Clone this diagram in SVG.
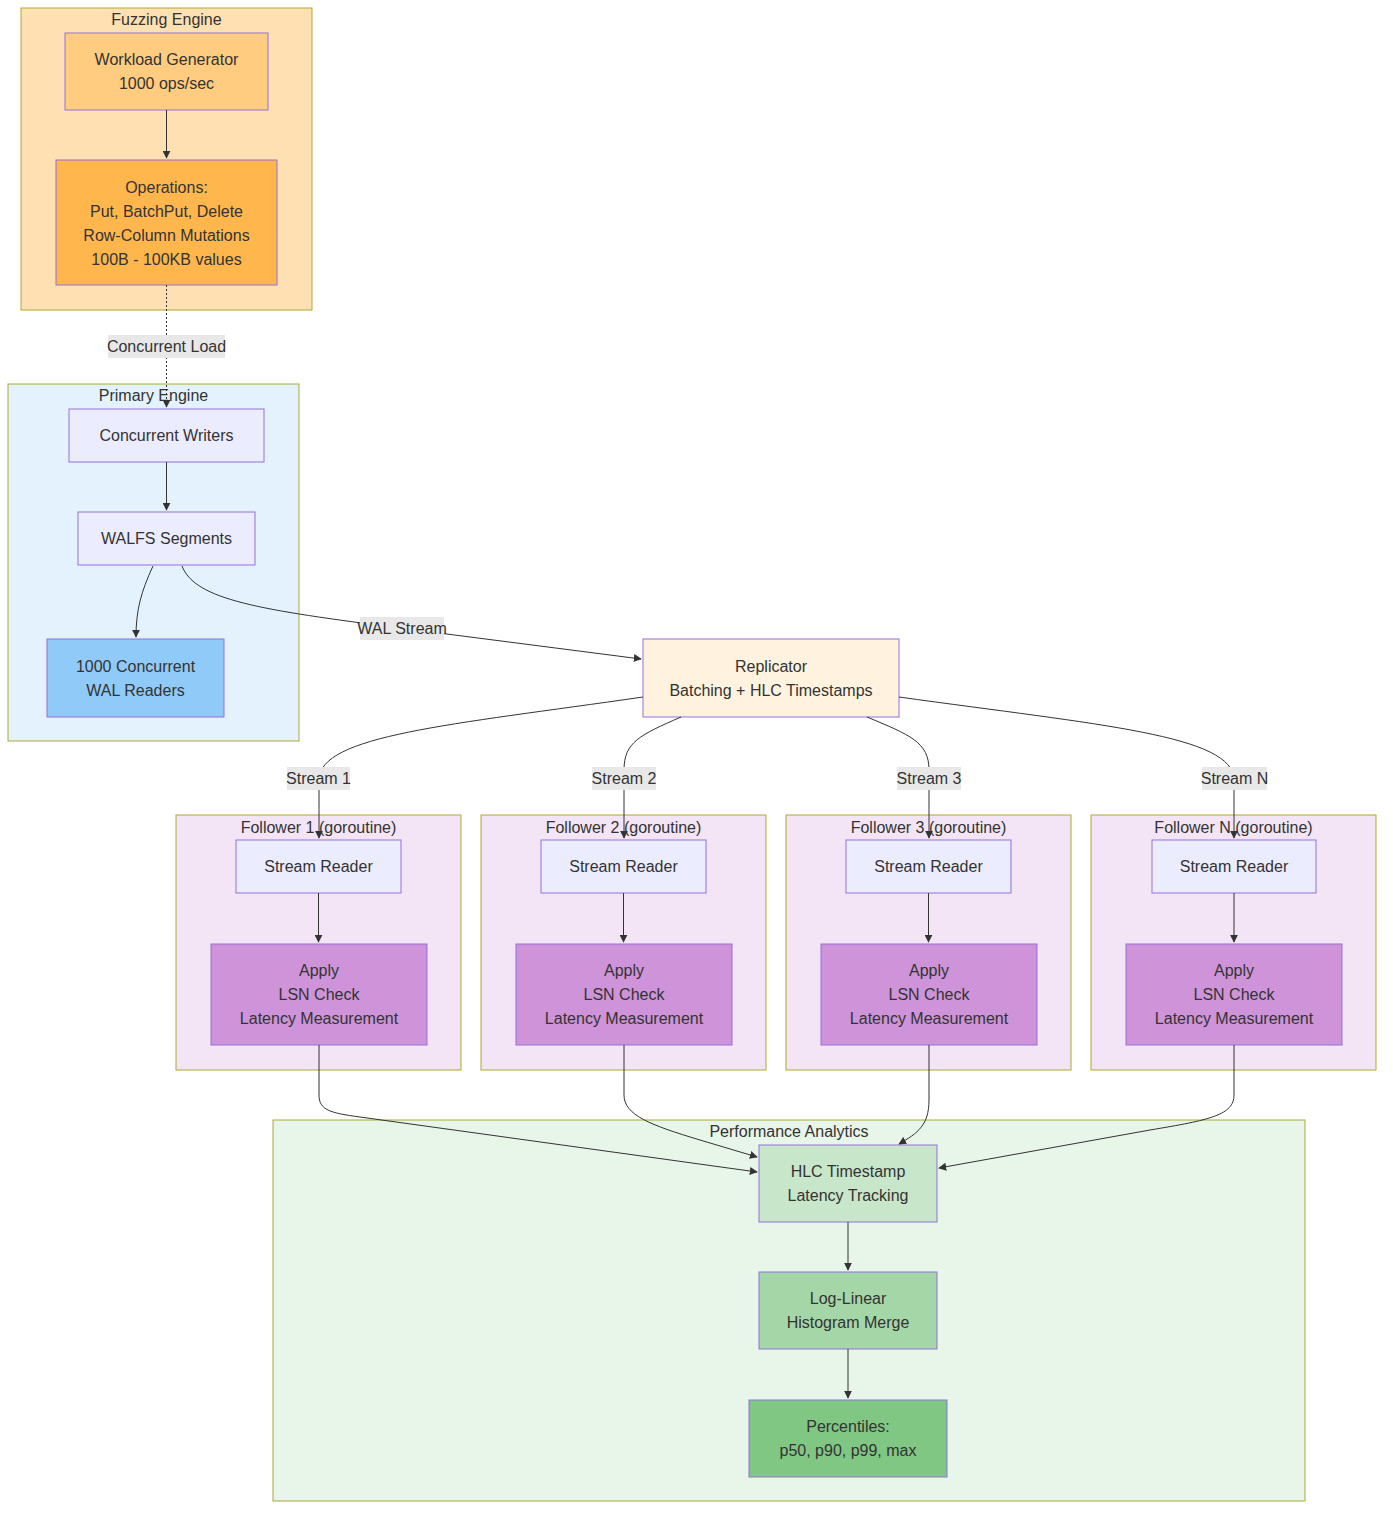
<svg xmlns="http://www.w3.org/2000/svg" width="1393" height="1518" viewBox="0 0 1393 1518">
<style>
text{font-family:"Liberation Sans",Arial,sans-serif;font-size:16px;fill:#333;text-anchor:middle;dominant-baseline:central}
.cl{stroke:#aaaa33;stroke-width:1}
.nd{stroke:#9370db;stroke-width:1}
.e{fill:none;stroke:#333;stroke-width:1}
.lb{fill:#e8e8e8}
</style>
<defs>
<marker id="ah" viewBox="0 0 10 10" refX="9" refY="5" markerWidth="8" markerHeight="8" markerUnits="userSpaceOnUse" orient="auto">
<path d="M0,0 L10,5 L0,10 z" fill="#333"/>
</marker>
</defs>
<rect width="1393" height="1518" fill="#fff"/>
<!-- clusters -->
<g id="cluster-fuzz"><rect class="cl" x="21" y="8" width="291" height="302" fill="#ffe0b2"/><text x="166.5" y="19">Fuzzing Engine</text></g>
<g id="cluster-primary"><rect class="cl" x="8" y="384" width="291" height="357" fill="#e3f2fd"/><text x="153.5" y="395">Primary Engine</text></g>
<g id="cluster-f1"><rect class="cl" x="176" y="815" width="285" height="255" fill="#f3e5f5"/><text x="318.5" y="827">Follower 1 (goroutine)</text></g>
<g id="cluster-f2"><rect class="cl" x="481" y="815" width="285" height="255" fill="#f3e5f5"/><text x="623.5" y="827">Follower 2 (goroutine)</text></g>
<g id="cluster-f3"><rect class="cl" x="786" y="815" width="285" height="255" fill="#f3e5f5"/><text x="928.5" y="827">Follower 3 (goroutine)</text></g>
<g id="cluster-fn"><rect class="cl" x="1091" y="815" width="285" height="255" fill="#f3e5f5"/><text x="1233.5" y="827">Follower N (goroutine)</text></g>
<g id="cluster-perf"><rect class="cl" x="273" y="1120" width="1032" height="381" fill="#e8f5e9"/><text x="789" y="1131">Performance Analytics</text></g>
<!-- nodes -->
<g id="workload"><rect class="nd" x="65" y="33" width="203" height="77" fill="#ffcc80"/><text x="166.5" y="59">Workload Generator</text><text x="166.5" y="83">1000 ops/sec</text></g>
<g id="operations"><rect class="nd" x="56" y="160" width="221" height="125" fill="#ffb74d"/><text x="166.5" y="187">Operations:</text><text x="166.5" y="211">Put, BatchPut, Delete</text><text x="166.5" y="235">Row-Column Mutations</text><text x="166.5" y="259">100B - 100KB values</text></g>
<g id="writers"><rect class="nd" x="69" y="409" width="195" height="53" fill="#ececff"/><text x="166.5" y="435">Concurrent Writers</text></g>
<g id="walfs"><rect class="nd" x="78" y="512" width="177" height="53" fill="#ececff"/><text x="166.5" y="538">WALFS Segments</text></g>
<g id="readers"><rect class="nd" x="47" y="639" width="177" height="78" fill="#90caf9"/><text x="135.5" y="666">1000 Concurrent</text><text x="135.5" y="690">WAL Readers</text></g>
<g id="replicator"><rect class="nd" x="643" y="639" width="256" height="78" fill="#fff3e0"/><text x="771" y="666">Replicator</text><text x="771" y="690">Batching + HLC Timestamps</text></g>
<g id="sr1"><rect class="nd" x="236" y="840" width="165" height="53" fill="#ececff"/><text x="318.5" y="866">Stream Reader</text></g>
<g id="ap1"><rect class="nd" x="211" y="944" width="216" height="101" fill="#ce93d8"/><text x="319" y="970">Apply</text><text x="319" y="994">LSN Check</text><text x="319" y="1018">Latency Measurement</text></g>
<g id="sr2"><rect class="nd" x="541" y="840" width="165" height="53" fill="#ececff"/><text x="623.5" y="866">Stream Reader</text></g>
<g id="ap2"><rect class="nd" x="516" y="944" width="216" height="101" fill="#ce93d8"/><text x="624" y="970">Apply</text><text x="624" y="994">LSN Check</text><text x="624" y="1018">Latency Measurement</text></g>
<g id="sr3"><rect class="nd" x="846" y="840" width="165" height="53" fill="#ececff"/><text x="928.5" y="866">Stream Reader</text></g>
<g id="ap3"><rect class="nd" x="821" y="944" width="216" height="101" fill="#ce93d8"/><text x="929" y="970">Apply</text><text x="929" y="994">LSN Check</text><text x="929" y="1018">Latency Measurement</text></g>
<g id="srn"><rect class="nd" x="1152" y="840" width="164" height="53" fill="#ececff"/><text x="1234" y="866">Stream Reader</text></g>
<g id="apn"><rect class="nd" x="1126" y="944" width="216" height="101" fill="#ce93d8"/><text x="1234" y="970">Apply</text><text x="1234" y="994">LSN Check</text><text x="1234" y="1018">Latency Measurement</text></g>
<g id="hlc"><rect class="nd" x="759" y="1145" width="178" height="77" fill="#c8e6c9"/><text x="848" y="1171">HLC Timestamp</text><text x="848" y="1195">Latency Tracking</text></g>
<g id="loglin"><rect class="nd" x="759" y="1272" width="178" height="77" fill="#a5d6a7"/><text x="848" y="1298">Log-Linear</text><text x="848" y="1322">Histogram Merge</text></g>
<g id="pct"><rect class="nd" x="749" y="1400" width="198" height="77" fill="#81c784"/><text x="848" y="1426">Percentiles:</text><text x="848" y="1450">p50, p90, p99, max</text></g>
<!-- connectors -->
<g id="connectors">
<path class="e" d="M166.5,110 L166.5,158" marker-end="url(#ah)"/>
<path class="e" d="M166.5,285 L166.5,407" stroke-dasharray="2,2" marker-end="url(#ah)"/>
<path class="e" d="M166.5,462 L166.5,510" marker-end="url(#ah)"/>
<path class="e" d="M153,566 C141,592 136,610 136,637" marker-end="url(#ah)"/>
<path class="e" d="M182,566 C195,600 260,610 400,628 L641,659" marker-end="url(#ah)"/>
<path class="e" d="M643,697 C450,725 319,735 319,780 L319,838" marker-end="url(#ah)"/>
<path class="e" d="M681,717 C640,735 624,742 624,770 L624,838" marker-end="url(#ah)"/>
<path class="e" d="M867,717 C910,735 929,742 929,770 L929,838" marker-end="url(#ah)"/>
<path class="e" d="M899,697 C1100,725 1234,735 1234,780 L1234,838" marker-end="url(#ah)"/>
<path class="e" d="M318.5,893 L318.5,942" marker-end="url(#ah)"/>
<path class="e" d="M623.5,893 L623.5,942" marker-end="url(#ah)"/>
<path class="e" d="M928.5,893 L928.5,942" marker-end="url(#ah)"/>
<path class="e" d="M1234,893 L1234,942" marker-end="url(#ah)"/>
<path class="e" d="M319,1045 L319,1095 C319,1110 330,1113 360,1117 L757,1172" marker-end="url(#ah)"/>
<path class="e" d="M624,1045 L624,1095 C624,1115 650,1125 700,1140 L757,1157" marker-end="url(#ah)"/>
<path class="e" d="M929,1045 L929,1100 C929,1125 918,1133 899,1144" marker-end="url(#ah)"/>
<path class="e" d="M1234,1045 L1234,1095 C1234,1115 1210,1120 1150,1130 L939,1168" marker-end="url(#ah)"/>
<path class="e" d="M848,1222 L848,1270" marker-end="url(#ah)"/>
<path class="e" d="M848,1349 L848,1398" marker-end="url(#ah)"/>
</g>
<!-- edge labels -->
<g id="edge-labels">
<rect class="lb" x="108" y="335" width="117" height="23"/><text x="166.5" y="346">Concurrent Load</text>
<rect class="lb" x="360" y="617" width="84" height="23"/><text x="402" y="628">WAL Stream</text>
<rect class="lb" x="287" y="767" width="63" height="23"/><text x="318.5" y="778">Stream 1</text>
<rect class="lb" x="592" y="767" width="64" height="23"/><text x="624" y="778">Stream 2</text>
<rect class="lb" x="897" y="767" width="64" height="23"/><text x="929" y="778">Stream 3</text>
<rect class="lb" x="1202" y="767" width="65" height="23"/><text x="1234.5" y="778">Stream N</text>
</g>
</svg>
